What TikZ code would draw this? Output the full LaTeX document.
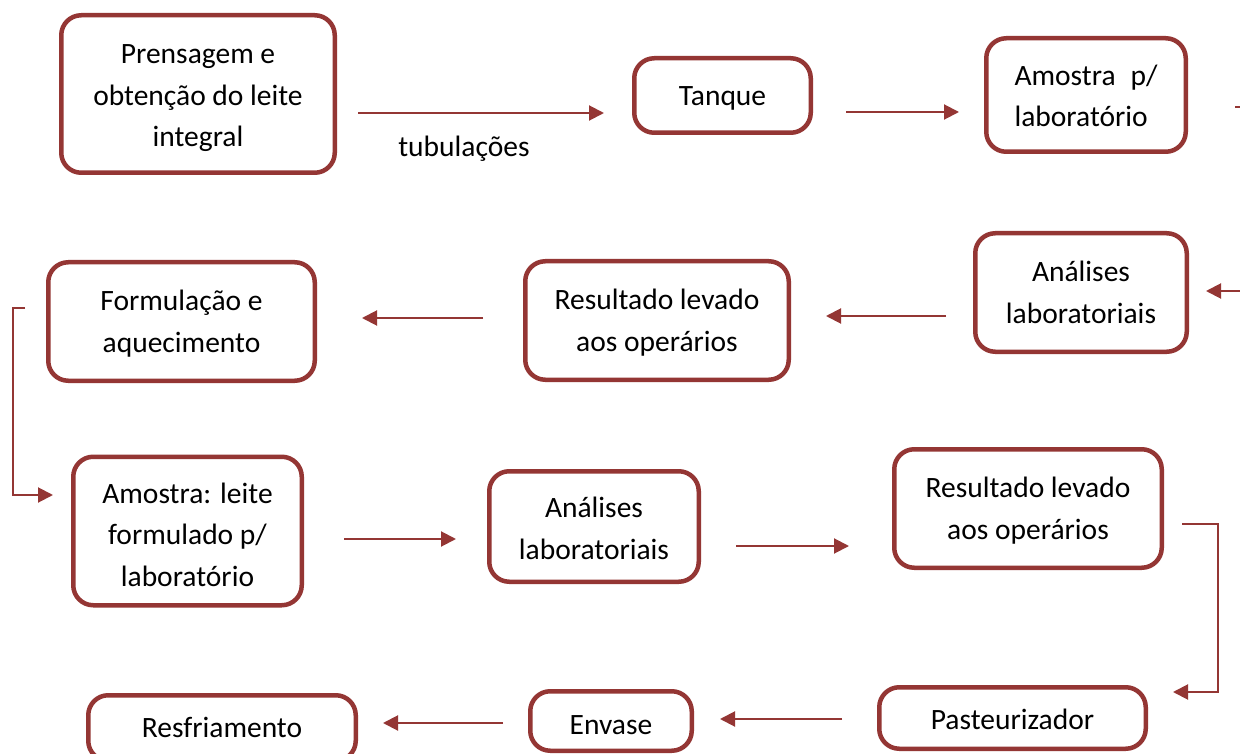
\documentclass[tikz,border=0pt]{standalone}
\usepackage{fontspec}
\setmainfont{Carlito}
\usetikzlibrary{arrows.meta}
\definecolor{brd}{HTML}{943634}
\newcommand\sA[1][0]{\rule{0pt}{\dimexpr 32pt+#1pt\relax}}
\newcommand\sB{\rule[-12.2pt]{0pt}{12.2pt}}
\begin{document}
\begin{tikzpicture}[x=1pt,y=-1pt,
  box/.style={draw=brd, line width=4.5pt, rounded corners=20pt, fill=white, align=center,
    font=\fontsize{29.5}{41.5}\selectfont, inner sep=0pt, text=black},
  conn/.style={draw=brd, line width=2pt, -{Triangle[length=15pt,width=15pt]}},
  plainline/.style={draw=brd, line width=2pt},
  lbl/.style={font=\fontsize{29.5}{41.5}\selectfont, inner sep=0pt}]
\clip (0,0) rectangle (1240,754);
\fill[white] (0,0) rectangle (1240,754);

% boxes
\node[box, minimum width=273.5pt, minimum height=157.5pt] (p1) at (198,94) {\sA[3]Prensagem e\\obtenção do leite\\integral\sB};
\node[box, minimum width=176.5pt, minimum height=74.5pt] (p2) at (722.5,95.5) {\sA Tanque\sB};
\node[box, minimum width=199.5pt, minimum height=113.5pt, text width=143pt, align=left] (p3) at (1086,95) {\sA[2]Amostra\hfill p/\\laboratório\sB};
\node[box, minimum width=211.5pt, minimum height=118.5pt] (p4) at (1081,292.5) {\sA Análises\\laboratoriais\sB};
\node[box, minimum width=263.5pt, minimum height=118.5pt] (p5) at (657,320.5) {\sA Resultado levado\\aos operários\sB};
\node[box, minimum width=266.5pt, minimum height=118.5pt] (p6) at (181.5,321.5) {\sA Formulação e\\aquecimento\sB};
\node[box, minimum width=228.5pt, minimum height=148.5pt] (p7) at (187.5,531) {\sA[8]Amostra: leite\\formulado p/\\laboratório\sB};
\node[box, minimum width=209.5pt, minimum height=110.5pt] (p8) at (594,526.5) {\sA[4]Análises\\laboratoriais\sB};
\node[box, minimum width=267.5pt, minimum height=118.5pt] (p9) at (1028,508.5) {\sA Resultado levado\\aos operários\sB};
\node[box, minimum width=266.5pt, minimum height=61.5pt] (p10) at (1012.5,718) {\sA[4]Pasteurizador\sB};
\node[box, minimum width=161.5pt, minimum height=59.5pt] (p11) at (611,721) {\sA[8]Envase\sB};
\node[box, minimum width=267.5pt, minimum height=65.5pt] (p12) at (222,728) {\sA Resfriamento\sB};

% connector end points
\coordinate (a1s) at (358,113); \coordinate (a1e) at (604,113);
\coordinate (a2s) at (846,112); \coordinate (a2e) at (959,112);
\coordinate (s1s) at (1235,107); \coordinate (s1e) at (1241,107);
\coordinate (a3s) at (1241,291); \coordinate (a3e) at (1206,291);
\coordinate (a4s) at (946,316); \coordinate (a4e) at (826,316);
\coordinate (a5s) at (483,318); \coordinate (a5e) at (362,318);
\coordinate (a6s) at (25,308); \coordinate (a6e) at (53,495);
\coordinate (a7s) at (344,539); \coordinate (a7e) at (456,539);
\coordinate (a8s) at (736,546); \coordinate (a8e) at (849,546);
\coordinate (a9s) at (1182,524); \coordinate (a9e) at (1173,692);
\coordinate (a10s) at (842,719); \coordinate (a10e) at (720,719);
\coordinate (a11s) at (503,723); \coordinate (a11e) at (383,723);

\draw[conn] (a1s) -- (a1e);
\node[lbl] (tub) at (464,147) {\sA tubulações\sB};
\draw[conn] (a2s) -- (a2e);
\draw[plainline] (s1s) -- (s1e);
\draw[conn] (a3s) -- (a3e);
\draw[conn] (a4s) -- (a4e);
\draw[conn] (a5s) -- (a5e);
\draw[conn] (a6s) -- (12.5,308) -- (12.5,495) -- (a6e);
\draw[conn] (a7s) -- (a7e);
\draw[conn] (a8s) -- (a8e);
\draw[conn] (a9s) -- (1218,524) -- (1218,692) -- (a9e);
\draw[conn] (a10s) -- (a10e);
\draw[conn] (a11s) -- (a11e);
\end{tikzpicture}
\end{document}
